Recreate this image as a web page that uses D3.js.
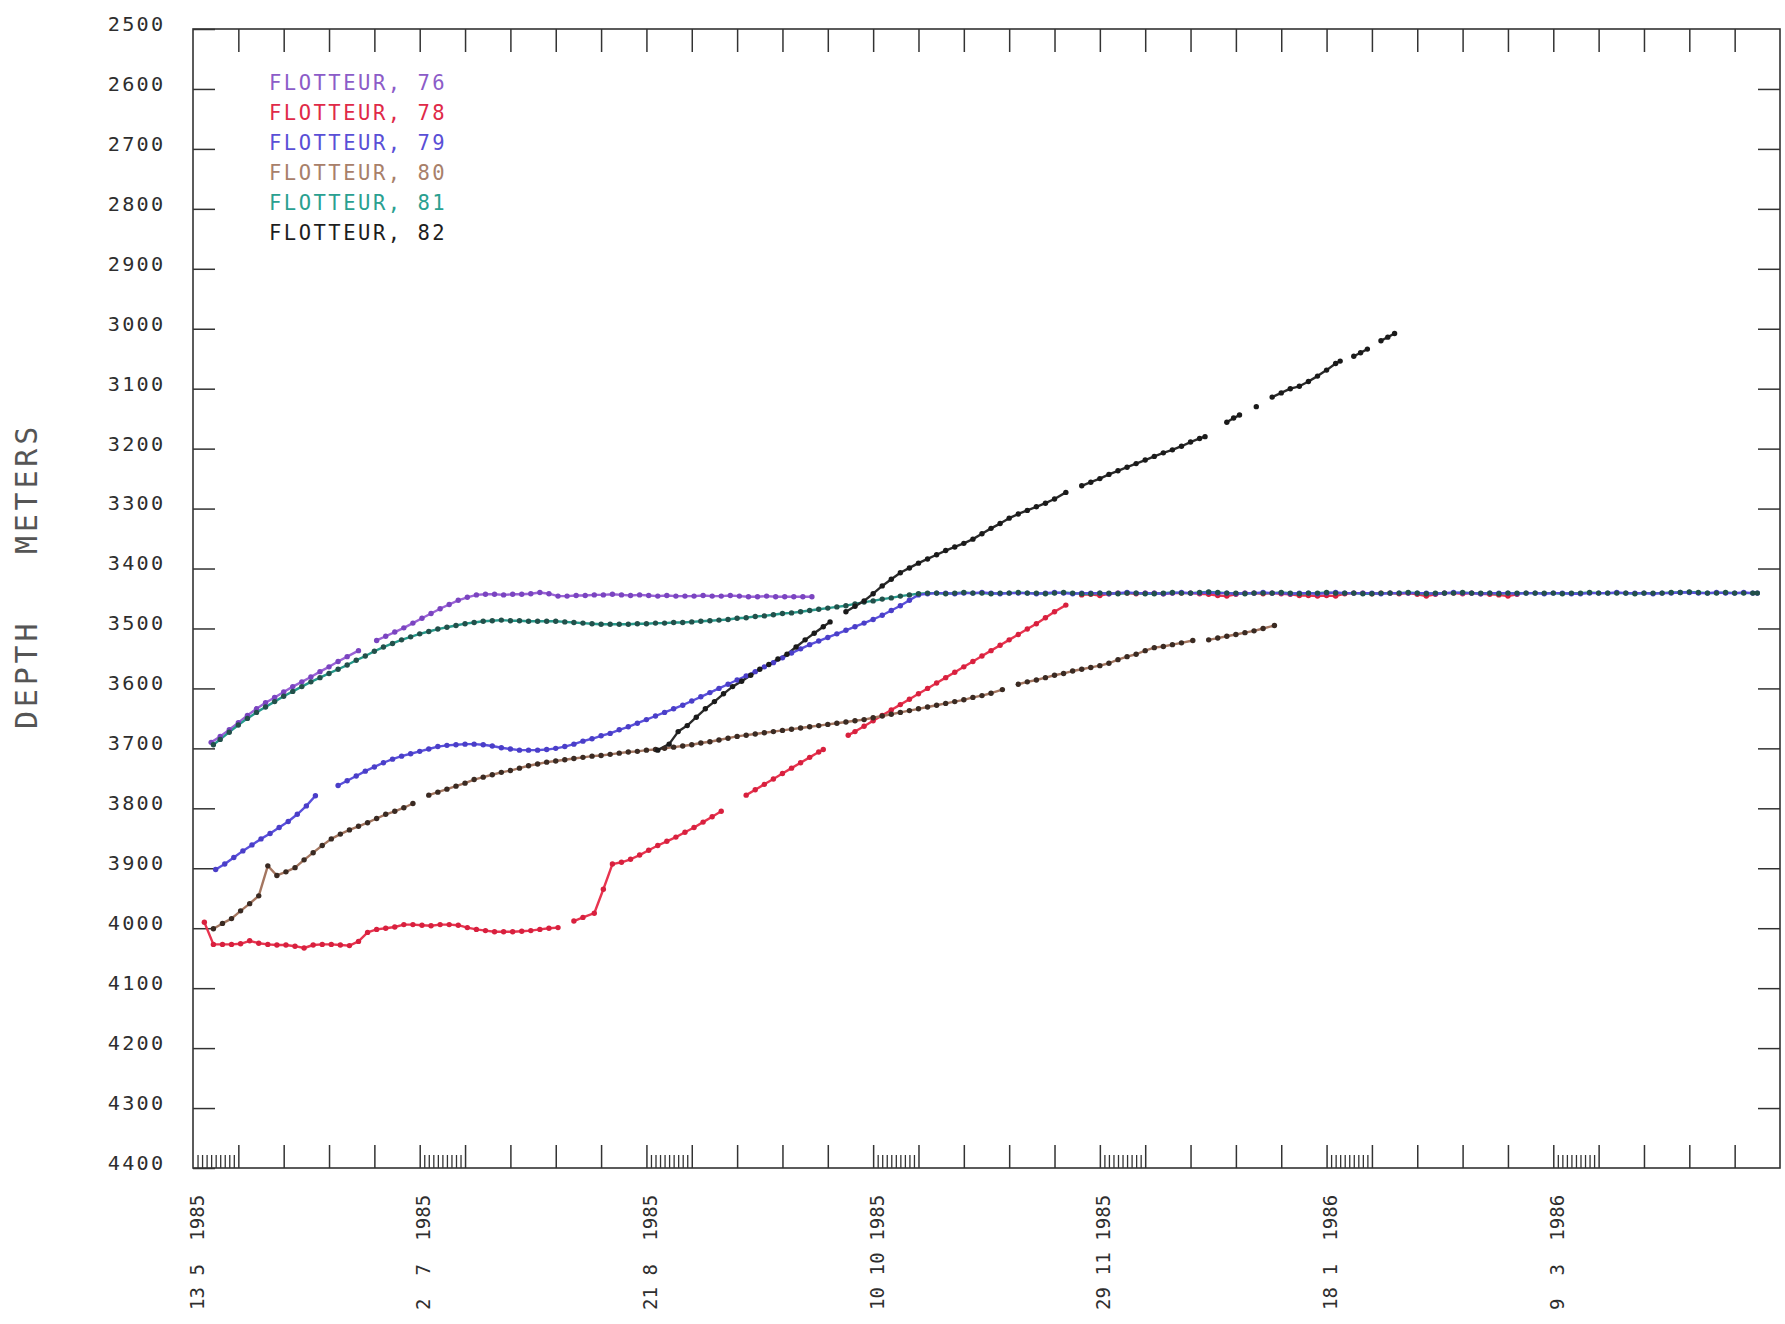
<!DOCTYPE html>
<html>
<head>
<meta charset="utf-8">
<script src="https://cdn.jsdelivr.net/npm/d3@7"></script>
<style>
  html, body { margin: 0; padding: 0; background: #fff; }
  svg { display: block; }
  text { font-family: "DejaVu Sans Mono", "Liberation Mono", monospace; }
</style>
</head>
<body>
<svg id="chart" width="1785" height="1324"></svg>
<script>
// Float depth records; x = days since 13 May 1985, y = depth in metres.
// Each float is a list of continuous track segments.

const depthTicks = [2500, 2600, 2700, 2800, 2900, 3000, 3100, 3200, 3300, 3400,
                    3500, 3600, 3700, 3800, 3900, 4000, 4100, 4200, 4300, 4400];

const dateTickDays = [0, 50, 100, 150, 200, 250, 300];
const dateTickDay = ["13", "2", "21", "10", "29", "18", "9"];
const dateTickMonth = ["5", "7", "8", "10", "11", "1", "3"];
const dateTickYear = ["1985", "1985", "1985", "1985", "1985", "1986", "1986"];

const floatNames = ["FLOTTEUR, 76", "FLOTTEUR, 78", "FLOTTEUR, 79", "FLOTTEUR, 80", "FLOTTEUR, 81", "FLOTTEUR, 82"];

const float76 = [
  [[4,3690],[6,3680],[8,3669],[10,3657],[12,3645],[14,3634],[16,3624],[18,3615],[20,3606],[22,3597],[24,3589],[26,3581],[28,3572],[30,3564],[32,3555],[34,3547],[36.5,3537]],
  [[40.5,3520],[42.5,3513],[44.5,3506],[46.5,3499],[48.5,3491],[50.5,3483],[52.5,3475],[54.5,3467],[56.5,3460],[58.5,3453],[60.5,3448],[62.5,3444],[64.5,3443],[66.5,3443],[68.5,3444],[70.5,3443],[72.5,3443],[74.5,3442],[76.5,3440],[78.5,3442],[80.5,3446],[82.5,3446],[84.5,3445],[86.5,3445],[88.5,3444],[90.5,3444],[92.5,3443],[94.5,3444],[96.5,3445],[98.5,3444],[100.5,3445],[102.5,3446],[104.5,3445],[106.5,3446],[108.5,3446],[110.5,3446],[112.5,3445],[114.5,3446],[116.5,3446],[118.5,3445],[120.5,3446],[122.5,3447],[124.5,3447],[126.5,3446],[128.5,3447],[130.5,3447],[132.5,3447],[134.5,3447],[136.5,3447]]
];

const float78 = [
  [[2.5,3990],[4.5,4027],[6.5,4027],[8.5,4027],[10.5,4026],[12.5,4021],[14.5,4025],[16.5,4027],[18.5,4028],[20.5,4028],[22.5,4030],[24.5,4033],[26.5,4028],[28.5,4027],[30.5,4027],[32.5,4028],[34.5,4029],[36.5,4022],[38.5,4007],[40.5,4002],[42.5,4000],[44.5,3998],[46.5,3994],[48.5,3994],[50.5,3995],[52.5,3996],[54.5,3994],[56.5,3994],[58.5,3995],[60.5,3999],[62.5,4002],[64.5,4004],[66.5,4006],[68.5,4006],[70.5,4006],[72.5,4005],[74.5,4004],[76.5,4002],[78.5,4000],[80.5,3999]],
  [[84,3988],[86,3982],[88.5,3975],[90.5,3935],[92.5,3893],[94.5,3890],[96.5,3885],[98.5,3878],[100.5,3870],[102.5,3862],[104.5,3855],[106.5,3848],[108.5,3840],[110.5,3832],[112.5,3823],[114.5,3814],[116.5,3805]],
  [[122,3778],[124,3769],[126,3760],[128,3751],[130,3742],[132,3733],[134,3724],[136,3715],[138,3706],[139,3702]],
  [[144.5,3678],[146,3672],[148,3663],[150,3654],[152,3645],[154,3636],[156,3627],[158,3618],[160,3609],[162,3600],[164,3591],[166,3582],[168,3573],[170,3564],[172,3555],[174,3546],[176,3537],[178,3528],[180,3519],[182,3510],[184,3501],[186,3492],[188,3482],[190,3472],[192.5,3461]],
  [[196,3444],[198,3443],[200,3445],[202,3442],[204,3441],[206,3441],[208,3442],[210,3441],[212,3441],[214,3442],[216,3441],[218,3441],[220,3441],[222,3442],[224,3443],[226,3445],[228,3446],[230,3443],[232,3441],[234,3441],[236,3442],[238,3441],[240,3442],[242,3443],[244,3445],[246,3445],[248,3446],[250,3445],[252,3446],[254,3442],[256,3441],[258,3441],[260,3442],[262,3441],[264,3441],[266,3442],[268,3441],[270,3443],[272,3446],[274,3443],[276,3441],[278,3441],[280,3442],[282,3441],[284,3442],[286,3443],[288,3444],[290,3446],[292,3443]]
];

const float79 = [
  [[5,3902],[7,3893],[9,3882],[11,3871],[13,3861],[15,3851],[17,3842],[19,3832],[21,3822],[23,3810],[25,3796],[27,3779]],
  [[32,3762],[34,3754],[36,3746],[38,3738],[40,3731],[42,3724],[44,3718],[46,3713],[48,3709],[50,3705],[52,3701],[54,3697],[56,3695],[58,3694],[60,3693],[62,3693],[64,3694],[66,3696],[68,3699],[70,3701],[72,3703],[74,3703],[76,3703],[78,3702],[80,3700],[82,3697],[84,3693],[86,3688],[88,3684],[90,3679],[92,3675],[94,3669],[96,3664],[98,3658],[100,3652],[102,3646],[104,3640],[106,3634],[108,3628],[110,3621],[112,3614],[114,3607],[116,3600],[118,3593],[120,3586],[122,3579],[124,3572],[126,3564],[128,3557],[130,3549],[132,3541],[134,3534],[136,3527],[138,3521],[140,3515],[142,3509],[144,3503],[146,3497],[148,3491],[150,3485],[152,3478],[154,3470],[156,3462],[158,3453],[160,3444],
   [162,3442],[164,3441],[166,3441],[168,3442],[170,3441],[172,3441],[174,3440],[176,3441],[178,3442],[180,3441],[182,3441],[184,3441],[186,3442],[188,3441],[190,3440],[192,3441],[194,3442],[196,3441],[198,3441],[200,3441],[202,3442],[204,3441],[206,3440],[208,3441],[210,3441],[212,3441],[214,3442],[216,3441],[218,3440],[220,3441],[222,3441],[224,3440],[226,3441],[228,3441],[230,3442],[232,3441],[234,3441],[236,3440],[238,3441],[240,3441],[242,3442],[244,3441],[246,3441],[248,3442],[250,3441],[252,3440],[254,3441],[256,3441],[258,3441],[260,3441],[262,3442],[264,3441],[266,3441],[268,3441],[270,3441],[272,3441],[274,3442],[276,3441],[278,3440],[280,3441],[282,3441],[284,3442],[286,3441],[288,3441],[290,3441],[292,3442],[294,3441],[296,3441],[298,3442],[300,3441],[302,3441],[304,3442],[306,3442],[308,3441],[310,3441],[312,3441],[314,3440],[316,3441],[318,3441],[320,3441],[322,3442],[324,3441],[326,3441],[328,3440],[330,3440],[332,3441],[334,3441],[336,3440],[338,3441],[340,3441],[342,3440],[344,3441],[345,3441]]
];

const float80 = [
  [[4.5,4001],[6.5,3992],[8.5,3984],[10.5,3971],[12.5,3959],[14.5,3946],[16.5,3896],[18.5,3912],[20.5,3906],[22.5,3899],[24.5,3886],[26.5,3874],[28.5,3862],[30.5,3851],[32.5,3843],[34.5,3836],[36.5,3830],[38.5,3824],[40.5,3817],[42.5,3810],[44.5,3805],[46.5,3799],[48.5,3792]],
  [[52,3778],[54,3773],[56,3768],[58,3763],[60,3758],[62,3752],[64,3748],[66,3744],[68,3740],[70,3737],[72,3733],[74,3729],[76,3726],[78,3723],[80,3721],[82,3719],[84,3717],[86,3715],[88,3713],[90,3712],[92,3710],[94,3708],[96,3706],[98,3705],[100,3703],[102,3702],[104,3700],[106,3698],[108,3696],[110,3694],[112,3691],[114,3689],[116,3686],[118,3683],[120,3680],[122,3678],[124,3676],[126,3674],[128,3672],[130,3670],[132,3668],[134,3666],[136,3664],[138,3662],[140,3660],[142,3658],[144,3656],[146,3654],[148,3652],[150,3649],[152,3646],[154,3643],[156,3640],[158,3637],[160,3634],[162,3631],[164,3628],[166,3625],[168,3622],[170,3619],[172,3615],[174,3612],[176,3608],[178.5,3602]],
  [[182,3593],[184,3589],[186,3586],[188,3582],[190,3578],[192,3575],[194,3571],[196,3568],[198,3565],[200,3562],[202,3558],[204,3552],[206,3547],[208,3543],[210,3537],[212,3532],[214,3530],[216,3527],[218,3524],[220.5,3520]],
  [[224,3519],[226,3516],[228,3513],[230,3510],[232,3507],[234,3504],[236,3500],[238.5,3495]]
];

const float81 = [
  [[4.5,3694],[6,3685],[8,3673],[10,3661],[12,3650],[14,3640],[16,3631],[18,3622],[20,3613],[22,3605],[24,3597],[26,3589],[28,3582],[30,3575],[32,3568],[34,3561],[36,3553],[38,3546],[40,3538],[42,3531],[44,3525],[46,3519],[48,3514],[50,3509],[52,3505],[54,3501],[56,3498],[58,3495],[60,3492],[62,3490],[64,3488],[66,3487],[68,3486],[70,3487],[72,3487],[74,3488],[76,3488],[78,3488],[80,3488],[82,3489],[84,3490],[86,3491],[88,3492],[90,3493],[92,3493],[94,3493],[96,3493],[98,3492],[100,3492],[102,3491],[104,3491],[106,3490],[108,3490],[110,3489],[112,3488],[114,3487],[116,3486],[118,3485],[120,3483],[122,3482],[124,3480],[126,3479],[128,3477],[130,3475],[132,3474],[134,3472],[136,3470],[138,3468],[140,3466],[142,3464],[144,3462],[146,3459],[148,3456],[150,3454],[152,3451],[154,3449],[156,3446],[158,3444],[160,3442],
   [162,3441],[164,3441],[166,3442],[168,3441],[170,3440],[172,3441],[174,3441],[176,3442],[178,3441],[180,3441],[182,3440],[184,3441],[186,3441],[188,3442],[190,3441],[192,3440],[194,3441],[196,3442],[198,3442],[200,3441],[202,3441],[204,3442],[206,3441],[208,3441],[210,3442],[212,3442],[214,3441],[216,3440],[218,3441],[220,3441],[222,3440],[224,3439],[226,3440],[228,3441],[230,3441],[232,3442],[234,3441],[236,3441],[238,3441],[240,3440],[242,3441],[244,3442],[246,3441],[248,3441],[250,3440],[252,3441],[254,3441],[256,3441],[258,3442],[260,3442],[262,3441],[264,3441],[266,3441],[268,3440],[270,3441],[272,3442],[274,3441],[276,3441],[278,3441],[280,3440],[282,3441],[284,3441],[286,3441],[288,3442],[290,3441],[292,3441],[294,3441],[296,3441],[298,3441],[300,3441],[302,3442],[304,3441],[306,3441],[308,3440],[310,3441],[312,3441],[314,3441],[316,3441],[318,3442],[320,3441],[322,3441],[324,3441],[326,3440],[328,3440],[330,3439],[332,3440],[334,3441],[336,3441],[338,3440],[340,3441],[342,3441],[344,3441],[345,3441]]
];

const float82 = [
  [[102.5,3703],[105,3693],[107,3672],[109,3662],[111,3648],[113,3634],[115,3622],[117,3609],[119,3597],[121,3588],[123,3578],[125,3568],[127,3560],[129,3551],[131,3543],[133,3531],[135,3519],[137,3508],[139,3497],[140.5,3489]],
  [[144,3472],[146,3463],[148,3454],[150,3442],[152,3429],[154,3418],[156,3407],[158,3399],[160,3391],[162,3384],[164,3377],[166,3370],[168,3364],[170,3358],[172,3351],[174,3342],[176,3333],[178,3325],[180,3316],[182,3309],[184,3303],[186,3297],[188,3291],[190,3284],[192.5,3273]],
  [[196,3262],[198,3256],[200,3250],[202,3243],[204,3237],[206,3231],[208,3225],[210,3219],[212,3213],[214,3207],[216,3202],[218,3196],[220,3189],[222,3183],[223.2,3180]],
  [[228,3156],[229.5,3149],[230.8,3144]],
  [[234.5,3130]],
  [[238,3114],[240,3107],[242,3100],[244,3096],[246,3088],[248,3079],[250,3069],[252,3058],[253,3054]],
  [[256,3046],[257.5,3040],[259,3034]],
  [[262,3020],[263.5,3014],[265,3008]]
];

const floatTracks = [float76, float78, float79, float80, float81, float82];

// Pen colours for each float (line, marker, legend text), same order as floatNames.
const pens = [
  { line: "#9a62d6", dot: "#7a44c0", text: "#8c5cc8" },
  { line: "#e8344f", dot: "#d8203e", text: "#e02a48" },
  { line: "#5a50dc", dot: "#4a3ec8", text: "#5a4fd6" },
  { line: "#a47660", dot: "#3a2a22", text: "#a8806a" },
  { line: "#25998a", dot: "#22504a", text: "#2aa090" },
  { line: "#2a2a2a", dot: "#1a1a1a", text: "#1e1e1e" }
];

(function drawChart() {
  const svg = d3.select("#chart");
  const plotLeft = 193, plotRight = 1780, plotTop = 29, plotBottom = 1168;

  const x = d3.scaleLinear().domain([0, 350]).range([plotLeft, plotRight]);
  const y = d3.scaleLinear().domain([2500, 4400]).range([plotTop, plotBottom]);

  const axisColor = "#333";

  // plot frame
  svg.append("rect")
    .attr("x", plotLeft).attr("y", plotTop)
    .attr("width", plotRight - plotLeft).attr("height", plotBottom - plotTop)
    .attr("fill", "none").attr("stroke", axisColor).attr("stroke-width", 1.6);

  function styleAxis(g) {
    g.select(".domain").remove();
    g.selectAll(".tick line").attr("stroke", axisColor).attr("stroke-width", 1.5);
  }

  const majorDays = d3.range(10, 350, 10);
  const minorDays = [];
  dateTickDays.forEach(d0 => { for (let k = 1; k < 10; k++) minorDays.push(d0 + k); });

  // left axis: inward ticks, labels outside
  const gLeft = svg.append("g").attr("transform", `translate(${plotLeft},0)`)
    .call(d3.axisLeft(y).tickValues(depthTicks).tickSizeInner(-22).tickSizeOuter(0).tickPadding(27.5)
      .tickFormat(d3.format("d")));
  styleAxis(gLeft);
  gLeft.selectAll(".tick text")
    .attr("dy", null).attr("y", 1.4)
    .attr("fill", "#2e2e2e")
    .style("font-size", "20.2px").style("letter-spacing", "2.3px")
    .style("font-family", "'DejaVu Sans Mono', monospace");

  // right axis: inward ticks only
  const gRight = svg.append("g").attr("transform", `translate(${plotRight},0)`)
    .call(d3.axisRight(y).tickValues(depthTicks.slice(1, -1)).tickSizeInner(-22).tickSizeOuter(0).tickFormat(""));
  styleAxis(gRight);

  // top axis: 10-day ticks
  const gTop = svg.append("g").attr("transform", `translate(0,${plotTop})`)
    .call(d3.axisTop(x).tickValues(majorDays).tickSizeInner(-23).tickSizeOuter(0).tickFormat(""));
  styleAxis(gTop);

  // bottom axis: 10-day ticks plus daily ticks after each dated mark
  const gBottom = svg.append("g").attr("transform", `translate(0,${plotBottom})`)
    .call(d3.axisBottom(x).tickValues(majorDays).tickSizeInner(-23).tickSizeOuter(0).tickFormat(""));
  styleAxis(gBottom);
  const gMinor = svg.append("g").attr("transform", `translate(0,${plotBottom})`)
    .call(d3.axisBottom(x).tickValues(minorDays).tickSizeInner(-13).tickSizeOuter(0).tickFormat(""));
  styleAxis(gMinor);
  gMinor.selectAll(".tick line").attr("stroke-width", 1.3);

  // date labels, written upward as "dd mm yyyy" in fixed-width fields
  const dateLabel = i => dateTickDay[i].padEnd(2, " ") + " " + dateTickMonth[i].padEnd(2, " ") + " " + dateTickYear[i];
  const gDates = svg.append("g").attr("transform", `translate(0,${plotBottom})`)
    .call(d3.axisBottom(x).tickValues(dateTickDays).tickSize(0).tickSizeOuter(0)
      .tickFormat((d, i) => dateLabel(i)));
  gDates.select(".domain").remove();
  gDates.selectAll(".tick text")
    .attr("x", 0).attr("y", 0).attr("dy", null)
    .attr("transform", "translate(3,142) rotate(-90)")
    .attr("dominant-baseline", "central")
    .attr("text-anchor", "start")
    .attr("fill", "#2e2e2e")
    .style("white-space", "pre")
    .style("font-size", "19px").style("letter-spacing", "0.1px")
    .style("font-family", "'DejaVu Sans Mono', monospace");

  // vertical axis title
  svg.append("text")
    .attr("transform", "translate(26,729) rotate(-90)")
    .attr("text-anchor", "start")
    .attr("dominant-baseline", "central")
    .attr("fill", "#555")
    .style("white-space", "pre")
    .style("font-size", "30px").style("letter-spacing", "3.8px")
    .text("DEPTH   METERS");

  // tracks: lines first, then the markers on top
  const line = d3.line().x(d => x(d[0])).y(d => y(d[1]));
  const lineOrder = [1, 3, 0, 4, 2, 5];
  const dotOrder = [1, 3, 0, 2, 4, 5];

  const gLines = svg.append("g").attr("fill", "none")
    .attr("stroke-width", 2.4).attr("stroke-linejoin", "round").attr("stroke-linecap", "round");
  lineOrder.forEach(i => {
    gLines.selectAll(null).data(floatTracks[i]).join("path")
      .attr("d", line).attr("stroke", pens[i].line);
  });

  const gDots = svg.append("g");
  dotOrder.forEach(i => {
    gDots.selectAll(null).data(floatTracks[i].flat()).join("circle")
      .attr("cx", d => x(d[0])).attr("cy", d => y(d[1]))
      .attr("r", 2.7).attr("fill", pens[i].dot);
  });

  // legend
  const gLegend = svg.append("g");
  gLegend.selectAll("text").data(floatNames).join("text")
    .attr("x", 269)
    .attr("y", (d, i) => 90.2 + i * 30)
    .attr("fill", (d, i) => pens[i].text)
    .style("font-size", "20.5px").style("letter-spacing", "2.5px")
    .text(d => d);
})();
</script>
</body>
</html>
